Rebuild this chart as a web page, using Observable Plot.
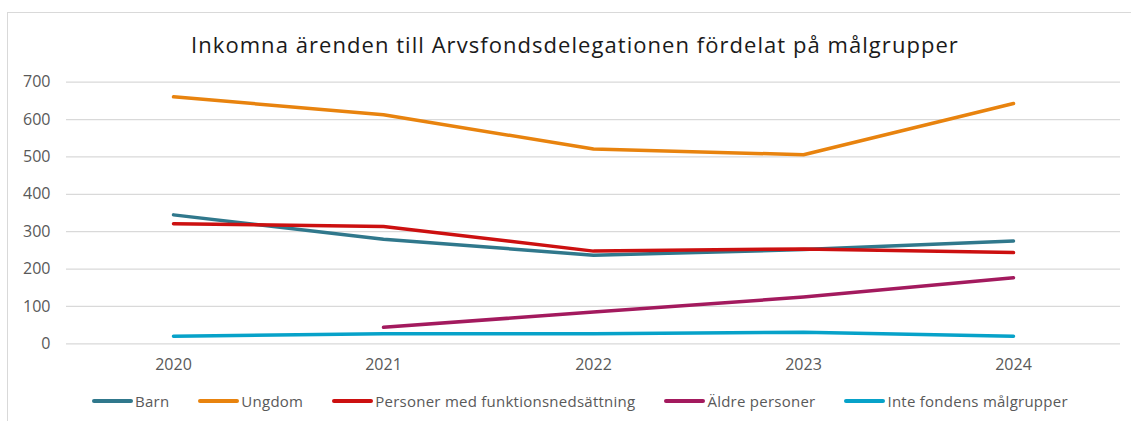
<!DOCTYPE html>
<html>
<head>
<meta charset="utf-8">
<script src="https://cdn.jsdelivr.net/npm/d3@7"></script>
<script src="https://cdn.jsdelivr.net/npm/@observablehq/plot@0.6"></script>
<style>
  html, body { margin: 0; padding: 0; background: #fff; overflow: hidden; }
  #wrap { position: relative; width: 1131px; height: 421px; overflow: hidden; font-family: "Open Sans", sans-serif; }
  #frame { position: absolute; left: 7px; top: 12px; width: 1200px; height: 500px; border: 1px solid #d9d9d9; box-sizing: border-box; }
  #title { position: absolute; left: 0; width: 1150px; top: 29px; text-align: center; font-size: 22px; letter-spacing: 1.05px; color: #1a1a1a; white-space: nowrap; }
  #chart { position: absolute; left: 0; top: 60px; }
  #legend { position: absolute; left: 92px; top: 391px; display: flex; align-items: center; gap: 29px; font-size: 15px; letter-spacing: 0.25px; color: #595959; white-space: nowrap; }
  .item { display: flex; align-items: center; }
  .sw { width: 41px; height: 4px; border-radius: 2px; margin-right: 2px; }
</style>
</head>
<body>
<div id="wrap">
  <div id="frame"></div>
  <div id="title">Inkomna ärenden till Arvsfondsdelegationen fördelat på målgrupper</div>
  <div id="chart"></div>
  <div id="legend"></div>
</div>
<script>
const years = ["2020", "2021", "2022", "2023", "2024"];
const seriesNames = ["Barn", "Ungdom", "Personer med funktionsnedsättning", "Äldre personer", "Inte fondens målgrupper"];
const colors = ["#30788c", "#e8830e", "#cc1010", "#a31a5e", "#07a2c9"];
const barn = [345, 280, 237, 252, 275];
const ungdom = [661, 613, 521, 506, 643];
const funktion = [321, 314, 248, 254, 244];
const aldre = [null, 44, 85, 125, 177];
const inte = [20, 27, 27, 31, 20];
const yTicks = [0, 100, 200, 300, 400, 500, 600, 700];

const allSeries = [barn, ungdom, funktion, aldre, inte];
const rows = [];
allSeries.forEach((vals, si) => {
  vals.forEach((v, i) => {
    if (v !== null) rows.push({ year: years[i], value: v, series: seriesNames[si] });
  });
});

const chart = Plot.plot({
  width: 1131,
  height: 320,
  marginLeft: 66,
  marginRight: 11,
  marginTop: 21.7,
  marginBottom: 36.7,
  style: { fontFamily: "Open Sans, sans-serif", background: "transparent" },
  x: { type: "point", domain: years, padding: 0.5, label: null },
  y: { domain: [0, 700], label: null },
  color: { domain: seriesNames, range: colors },
  marks: [
    Plot.gridY(yTicks, { stroke: "#d9d9d9", strokeOpacity: 1, strokeWidth: 1.3 }),
    Plot.axisY(yTicks, { tickSize: 0, tickPadding: 16, fontSize: 16, fill: "#595959", label: null }),
    Plot.axisX(years, { tickSize: 0, tickPadding: 15, fontSize: 16, fill: "#595959", label: null }),
    Plot.line(rows, {
      x: "year", y: "value", z: "series", stroke: "series",
      strokeWidth: 3.5, strokeLinecap: "round", strokeLinejoin: "round",
      curve: "linear"
    })
  ]
});
document.getElementById("chart").appendChild(chart);

const legend = document.getElementById("legend");
seriesNames.forEach((name, i) => {
  const item = document.createElement("div");
  item.className = "item";
  const sw = document.createElement("div");
  sw.className = "sw";
  sw.style.background = colors[i];
  const label = document.createElement("span");
  label.textContent = name;
  item.appendChild(sw);
  item.appendChild(label);
  legend.appendChild(item);
});
</script>
</body>
</html>
